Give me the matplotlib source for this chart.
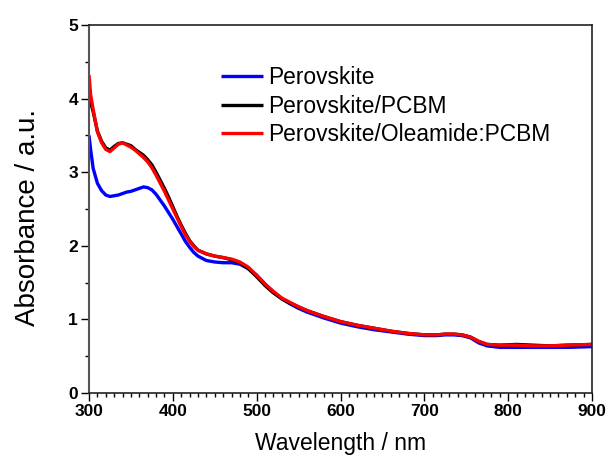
import matplotlib
matplotlib.use("Agg")
import matplotlib.pyplot as plt
from matplotlib.ticker import MultipleLocator

plt.rcParams['font.family'] = ['Liberation Sans', 'DejaVu Sans']

wl_red = [300, 302, 305, 310, 315, 320, 325, 330, 335, 340, 345, 350, 355, 360, 365, 370, 375,
          380, 385, 390, 395, 400, 405, 410, 415, 420, 425, 430, 440, 450, 460, 470, 480, 490,
          500, 510, 520, 530, 540, 550, 560, 580, 600, 620, 640, 660, 680, 700, 715, 725, 735,
          745, 755, 765, 775, 790, 810, 830, 850, 870, 900]
abs_red = [4.32, 4.05, 3.85, 3.55, 3.40, 3.31, 3.28, 3.33, 3.38, 3.40, 3.37, 3.34, 3.30, 3.25,
           3.20, 3.14, 3.06, 2.96, 2.85, 2.74, 2.62, 2.50, 2.38, 2.26, 2.15, 2.06, 1.99, 1.94,
           1.89, 1.86, 1.84, 1.82, 1.78, 1.71, 1.60, 1.48, 1.38, 1.29, 1.23, 1.17, 1.12, 1.04,
           0.97, 0.92, 0.88, 0.84, 0.81, 0.79, 0.79, 0.80, 0.80, 0.79, 0.76, 0.70, 0.66, 0.65,
           0.65, 0.64, 0.64, 0.65, 0.66]

wl_black = wl_red
abs_black = [4.05, 3.95, 3.82, 3.56, 3.42, 3.33, 3.30, 3.35, 3.39, 3.40, 3.38, 3.36, 3.31, 3.27,
             3.23, 3.17, 3.10, 3.00, 2.89, 2.78, 2.66, 2.53, 2.40, 2.28, 2.17, 2.07, 2.00, 1.94,
             1.89, 1.86, 1.84, 1.81, 1.77, 1.69, 1.58, 1.46, 1.36, 1.28, 1.22, 1.17, 1.12, 1.04,
             0.97, 0.92, 0.88, 0.84, 0.81, 0.79, 0.79, 0.80, 0.80, 0.79, 0.76, 0.70, 0.66, 0.65,
             0.66, 0.65, 0.64, 0.65, 0.66]

wl_blue = wl_red
abs_blue = [3.50, 3.30, 3.05, 2.85, 2.75, 2.69, 2.67, 2.68, 2.69, 2.71, 2.73, 2.74, 2.76, 2.78,
            2.80, 2.79, 2.76, 2.70, 2.62, 2.54, 2.45, 2.36, 2.26, 2.16, 2.06, 1.98, 1.91, 1.86,
            1.80, 1.78, 1.77, 1.77, 1.75, 1.69, 1.60, 1.48, 1.37, 1.28, 1.21, 1.15, 1.10, 1.02,
            0.95, 0.90, 0.86, 0.83, 0.80, 0.78, 0.78, 0.79, 0.79, 0.78, 0.75, 0.68, 0.64, 0.62,
            0.62, 0.62, 0.62, 0.62, 0.63]

labels = ['Perovskite', 'Perovskite/PCBM', 'Perovskite/Oleamide:PCBM']
colors = ['#0000ff', '#000000', '#ff0000']

fig = plt.figure(figsize=(6.08, 4.59), dpi=100)
ax = fig.add_axes([89/608, 66/459, 503/608, 368/459])

for x, y, lab, c in zip([wl_blue, wl_black, wl_red], [abs_blue, abs_black, abs_red], labels, colors):
    ax.plot(x, y, color=c, lw=2.4, label=lab, solid_capstyle='butt')

ax.set_xlim(300, 900)
ax.set_ylim(0, 5)
ax.xaxis.set_major_locator(MultipleLocator(100))
ax.xaxis.set_minor_locator(MultipleLocator(10))
ax.yaxis.set_major_locator(MultipleLocator(1))
ax.yaxis.set_minor_locator(MultipleLocator(0.5))
ax.tick_params(which='major', direction='out', length=5.5, width=1.0, pad=2.5,
               labelsize=12.5, top=False, right=False)
ax.tick_params(which='minor', direction='out', length=3, width=1.0, top=False, right=False)
for lab in ax.get_xticklabels() + ax.get_yticklabels():
    lab.set_fontweight('bold')
for name, s in ax.spines.items():
    s.set_linewidth(1.2)
    s.set_color('#222222')
ax.spines['left'].set_color('#555555')
ax.spines['left'].set_linewidth(1.5)

ax.set_xlabel('Wavelength / nm', fontsize=16.5)
ax.set_ylabel('Absorbance / a.u.', fontsize=20)
ax.xaxis.set_label_coords(0.5, -0.106)
ax.yaxis.set_label_coords(-0.095, 0.476)

leg = ax.legend(loc='upper left', bbox_to_anchor=(0.239, 0.92), frameon=False, fontsize=16.4,
                handlelength=1.85, handletextpad=0.22, labelspacing=0.25, borderpad=0)

fig.savefig('out.png', dpi=100)
